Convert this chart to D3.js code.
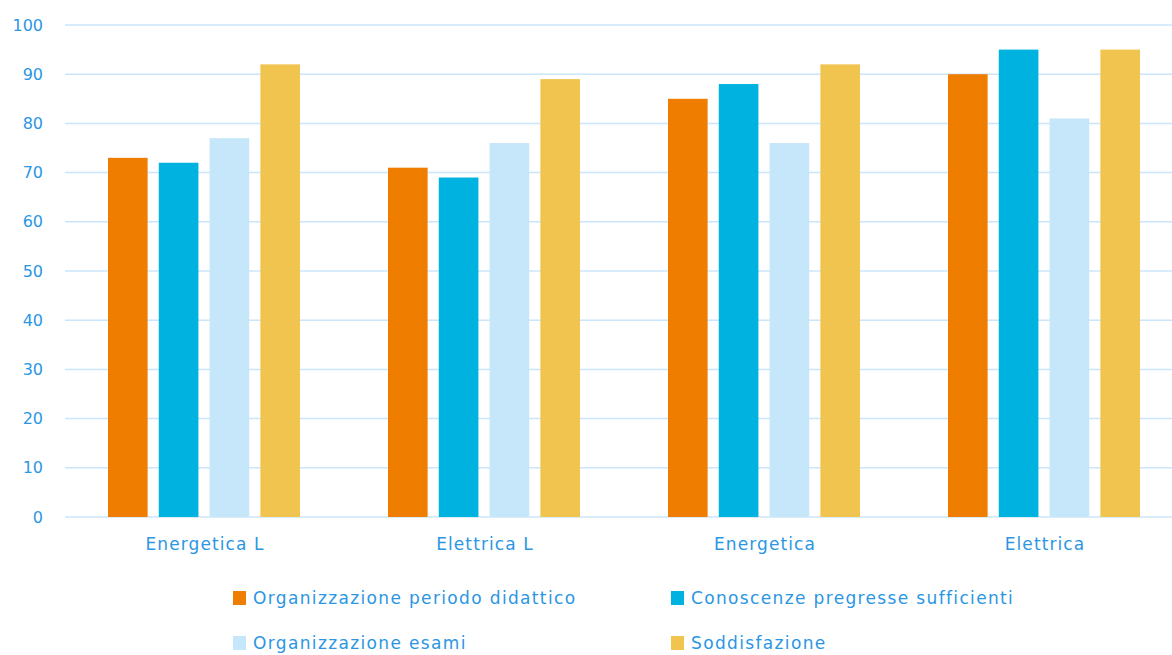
<!DOCTYPE html>
<html><head><meta charset="utf-8">
<script src="https://cdn.jsdelivr.net/npm/d3@7"></script>
<style>body{margin:0;background:#fff}svg{display:block;font-family:"DejaVu Sans",sans-serif}</style>
</head><body><svg id="c" width="1172" height="655"></svg>
<script>
const categories = ["Energetica L","Elettrica L","Energetica","Elettrica"];
const seriesNames = ["Organizzazione periodo didattico","Conoscenze pregresse sufficienti","Organizzazione esami","Soddisfazione"];
const orgDidattico = [73,71,85,90];
const conoscenze = [72,69,88,95];
const orgEsami = [77,76,76,81];
const soddisfazione = [92,89,92,95];
const yTicks = [0,10,20,30,40,50,60,70,80,90,100];
const colors = ["#ef7d00","#00b2e0","#c6e6f9","#f0c44e"];
const seriesVals = [orgDidattico,conoscenze,orgEsami,soddisfazione];
const textColor = "#2b96e3";

const svg = d3.select("#c");
const x = d3.scaleBand().domain(categories).range([65,1185]).paddingInner(0).paddingOuter(0);
const y = d3.scaleLinear().domain([0,100]).range([517,25]);
const xs = d3.scaleBand().domain(d3.range(4)).range([43,235]).paddingInner(0.22);

// gridlines
svg.append("g").selectAll("line").data(yTicks).join("line")
  .attr("x1",65).attr("x2",1172).attr("y1",d=>y(d)).attr("y2",d=>y(d))
  .attr("stroke","#cbe6fa").attr("stroke-width",1.5);

// y axis labels
const yAxis = d3.axisLeft(y).tickValues(yTicks).tickSize(0).tickPadding(0);
const ya = svg.append("g").attr("transform","translate(43,0)").call(yAxis);
ya.select(".domain").remove();
ya.selectAll("text").attr("fill",textColor).attr("font-size",16).attr("font-family","DejaVu Sans");

// bars
const data = [];
categories.forEach((c,ci)=>seriesVals.forEach((s,si)=>data.push({c,si,v:s[ci]})));
svg.append("g").selectAll("rect").data(data).join("rect")
  .attr("x",d=>x(d.c)+xs(d.si)).attr("width",xs.bandwidth())
  .attr("y",d=>y(d.v)).attr("height",d=>y(0)-y(d.v))
  .attr("fill",d=>colors[d.si]);

// x labels
const xAxis = d3.axisBottom(x).tickSize(0).tickPadding(0);
const xa = svg.append("g").attr("transform","translate(0,540)").call(xAxis);
xa.select(".domain").remove();
xa.selectAll("text").attr("fill",textColor).attr("font-size",17).attr("font-family","DejaVu Sans")
  .attr("letter-spacing","1.1px").attr("dy","0.6em");

// legend
const legPos = [[233,598],[671,598],[233,643],[671,643]];
const lg = svg.append("g").selectAll("g").data(seriesNames).join("g")
  .attr("transform",(d,i)=>`translate(${legPos[i][0]},${legPos[i][1]})`);
lg.append("rect").attr("x",0).attr("y",-7).attr("width",13).attr("height",14).attr("fill",(d,i)=>colors[i]);
lg.append("text").attr("x",20).attr("y",0).attr("dy","0.35em").attr("fill",textColor)
  .attr("font-size",17).attr("letter-spacing","1.35px").text(d=>d);
</script></body></html>
